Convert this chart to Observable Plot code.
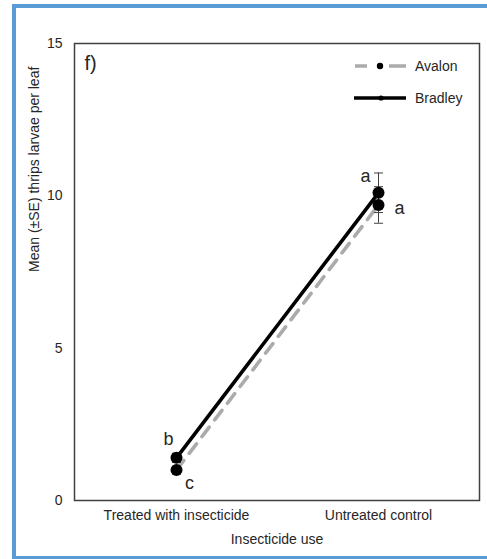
<!DOCTYPE html>
<html>
<head>
<meta charset="utf-8">
<script src="https://cdn.jsdelivr.net/npm/d3@7"></script>
<script src="https://cdn.jsdelivr.net/npm/@observablehq/plot@0.6"></script>
<style>
  html, body { margin: 0; padding: 0; background: #fff; overflow: hidden; }
  #wrap { position: relative; width: 487px; height: 559px; font-family: "Liberation Sans", Arial, sans-serif; }
  #border { position: absolute; left: 12px; top: 4px; width: 520px; height: 556px; box-sizing: border-box;
            border: 4px solid #5b9bd5; border-right: none; pointer-events: none; }
  #legend { position: absolute; left: 0; top: 0; pointer-events: none; }
</style>
</head>
<body>
<div id="wrap"><div id="border"></div></div>
<script>
const categories = ["Treated with insecticide", "Untreated control"];
const seriesNames = ["Avalon", "Bradley"];
const avalonMean = [1.0, 9.7];
const bradleyMean = [1.4, 10.1];
const avalonSE = [0.12, 0.6];
const bradleySE = [0.15, 0.65];
const avalonLetters = ["c", "a"];
const bradleyLetters = ["b", "a"];
const yTicks = [0, 5, 10, 15];
const panelLabel = "f)";
const xTitle = "Insecticide use";
const yTitle = "Mean (±SE) thrips larvae per leaf";

const data = [];
categories.forEach((c, i) => {
  data.push({series: "Avalon", cat: c, mean: avalonMean[i], se: avalonSE[i], letter: avalonLetters[i], idx: i});
  data.push({series: "Bradley", cat: c, mean: bradleyMean[i], se: bradleySE[i], letter: bradleyLetters[i], idx: i});
});
const avalon = data.filter(d => d.series === "Avalon");
const bradley = data.filter(d => d.series === "Bradley");

const capSymbol = {
  draw(ctx, size) {
    const r = Math.sqrt(size / Math.PI);
    ctx.moveTo(-r, 0);
    ctx.lineTo(r, 0);
  }
};

const FS = 14;
const chart = Plot.plot({
  width: 487,
  height: 559,
  marginLeft: 74,
  marginRight: 8,
  marginTop: 43,
  marginBottom: 59,
  style: {fontFamily: "Liberation Sans, Arial, sans-serif", fontSize: FS + "px", color: "#262626", background: "transparent"},
  x: {type: "point", domain: categories, padding: 0.5, label: null},
  y: {domain: [0, 15], label: null},
  marks: [
    Plot.axisY({ticks: yTicks, tickSize: 0, tickPadding: 12, label: null, fontSize: FS}),
    Plot.axisX({tickSize: 0, tickPadding: 10, label: null, fontSize: FS}),
    Plot.text([yTitle], {frameAnchor: "left", dx: -40, rotate: -90, fontSize: FS, fill: "#262626"}),
    Plot.text([xTitle], {frameAnchor: "bottom", dy: 39, lineAnchor: "middle", fontSize: FS, fill: "#262626"}),
    Plot.line(avalon, {x: "cat", y: "mean", stroke: "#ababab", strokeWidth: 3.6, strokeDasharray: "12,9", strokeLinecap: "round"}),
    Plot.line(bradley, {x: "cat", y: "mean", stroke: "#000", strokeWidth: 3.6}),
    Plot.ruleX(data, {x: "cat", y1: d => d.mean - d.se, y2: d => d.mean + d.se, stroke: "#404040", strokeWidth: 1}),
    Plot.dot(data, {x: "cat", y: d => d.mean + d.se, symbol: capSymbol, r: 4.5, stroke: "#404040", strokeWidth: 1, fill: "none"}),
    Plot.dot(data, {x: "cat", y: d => d.mean - d.se, symbol: capSymbol, r: 4.5, stroke: "#404040", strokeWidth: 1, fill: "none"}),
    Plot.dot(data, {x: "cat", y: "mean", r: 6, fill: "#000", stroke: "none"}),
    Plot.text(bradley.filter(d => d.idx === 0), {x: "cat", y: "mean", text: "letter", dx: -8, dy: -19, fontSize: 18, fill: "#262626"}),
    Plot.text(avalon.filter(d => d.idx === 0), {x: "cat", y: "mean", text: "letter", dx: 13, dy: 13, fontSize: 18, fill: "#262626"}),
    Plot.text(bradley.filter(d => d.idx === 1), {x: "cat", y: "mean", text: "letter", dx: -13, dy: -17, fontSize: 18, fill: "#262626"}),
    Plot.text(avalon.filter(d => d.idx === 1), {x: "cat", y: "mean", text: "letter", dx: 21, dy: 3, fontSize: 18, fill: "#262626"}),
    Plot.text([panelLabel], {frameAnchor: "top-left", dx: 10, dy: 20, fontSize: 20, textAnchor: "start", lineAnchor: "middle", fill: "#262626"}),
    Plot.frame({stroke: "#404040", strokeWidth: 1.5})
  ]
});
const wrap = document.getElementById("wrap");
wrap.insertBefore(chart, wrap.firstChild);

// legend overlay
const ns = "http://www.w3.org/2000/svg";
const leg = document.createElementNS(ns, "svg");
leg.setAttribute("id", "legend");
leg.setAttribute("width", 487);
leg.setAttribute("height", 559);
const legendRows = [
  {name: seriesNames[0], y: 66, stroke: "#ababab", dash: "12,9", dotR: 3.2},
  {name: seriesNames[1], y: 98, stroke: "#000", dash: null, dotR: 2.6}
];
legendRows.forEach(r => {
  const line = document.createElementNS(ns, "line");
  line.setAttribute("x1", r.dash ? 355 : 354);
  line.setAttribute("x2", 406);
  line.setAttribute("y1", r.y);
  line.setAttribute("y2", r.y);
  line.setAttribute("stroke", r.stroke);
  line.setAttribute("stroke-width", 3.6);
  if (r.dash) line.setAttribute("stroke-dasharray", "12,22,17");
  leg.appendChild(line);
  const c = document.createElementNS(ns, "circle");
  c.setAttribute("cx", r.dash ? 380 : 381);
  c.setAttribute("cy", r.y);
  c.setAttribute("r", r.dotR);
  c.setAttribute("fill", "#000");
  leg.appendChild(c);
  const t = document.createElementNS(ns, "text");
  t.setAttribute("x", 415);
  t.setAttribute("y", r.y);
  t.setAttribute("dy", "0.35em");
  t.setAttribute("font-size", FS);
  t.setAttribute("font-family", "Liberation Sans, Arial, sans-serif");
  t.setAttribute("fill", "#262626");
  t.textContent = r.name;
  leg.appendChild(t);
});
wrap.appendChild(leg);
</script>
</body>
</html>
